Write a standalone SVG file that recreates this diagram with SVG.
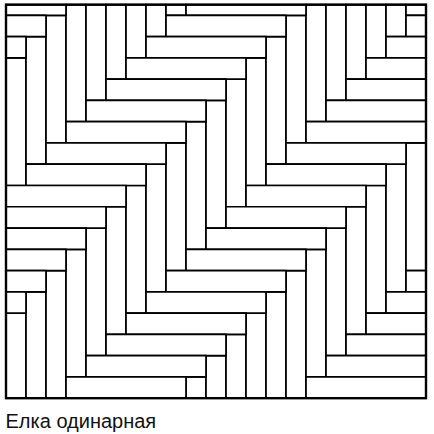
<svg xmlns="http://www.w3.org/2000/svg" width="434" height="434" viewBox="0 0 434 434">
<style>
.p{fill:#fff;stroke:#000;stroke-width:1.7;vector-effect:non-scaling-stroke}
.f{fill:none;stroke:#000;stroke-width:2.4}
.t{font-family:"Liberation Sans",Arial,sans-serif;font-size:20px;fill:#111}
</style>
<rect width="434" height="434" fill="#fff"/>
<g id="parquet" transform="translate(6,15.335) scale(20,21.27)">
<g id="vertical">
<rect class="p" x="0" y="2" width="1" height="6"/><rect class="p" x="0" y="14" width="1" height="4"/>
<rect class="p" x="1" y="1" width="1" height="6"/><rect class="p" x="1" y="13" width="1" height="5"/>
<rect class="p" x="2" y="0" width="1" height="6"/><rect class="p" x="2" y="12" width="1" height="6"/>
<rect class="p" x="3" y="-0.5" width="1" height="5.5"/><rect class="p" x="3" y="11" width="1" height="6"/>
<rect class="p" x="4" y="-0.5" width="1" height="4.5"/><rect class="p" x="4" y="10" width="1" height="6"/>
<rect class="p" x="5" y="-0.5" width="1" height="3.5"/><rect class="p" x="5" y="9" width="1" height="6"/>
<rect class="p" x="6" y="-0.5" width="1" height="2.5"/><rect class="p" x="6" y="8" width="1" height="6"/>
<rect class="p" x="7" y="-0.5" width="1" height="1.5"/><rect class="p" x="7" y="7" width="1" height="6"/>
<rect class="p" x="8" y="-0.5" width="1" height="0.5"/><rect class="p" x="8" y="6" width="1" height="6"/>
<rect class="p" x="9" y="5" width="1" height="6"/><rect class="p" x="9" y="17" width="1" height="1"/>
<rect class="p" x="10" y="4" width="1" height="6"/><rect class="p" x="10" y="16" width="1" height="2"/>
<rect class="p" x="11" y="3" width="1" height="6"/><rect class="p" x="11" y="15" width="1" height="3"/>
<rect class="p" x="12" y="2" width="1" height="6"/><rect class="p" x="12" y="14" width="1" height="4"/>
<rect class="p" x="13" y="1" width="1" height="6"/><rect class="p" x="13" y="13" width="1" height="5"/>
<rect class="p" x="14" y="0" width="1" height="6"/><rect class="p" x="14" y="12" width="1" height="6"/>
<rect class="p" x="15" y="-0.5" width="1" height="5.5"/><rect class="p" x="15" y="11" width="1" height="6"/>
<rect class="p" x="16" y="-0.5" width="1" height="4.5"/><rect class="p" x="16" y="10" width="1" height="6"/>
<rect class="p" x="17" y="-0.5" width="1" height="3.5"/><rect class="p" x="17" y="9" width="1" height="6"/>
<rect class="p" x="18" y="-0.5" width="1" height="2.5"/><rect class="p" x="18" y="8" width="1" height="6"/>
<rect class="p" x="19" y="-0.5" width="1" height="1.5"/><rect class="p" x="19" y="7" width="1" height="6"/>
<rect class="p" x="20" y="-0.5" width="1" height="0.5"/><rect class="p" x="20" y="6" width="1" height="6"/>
</g>
<g id="horizontal">
<rect class="p" x="0" y="-0.5" width="3" height="0.5"/><rect class="p" x="9" y="-0.5" width="6" height="0.5"/>
<rect class="p" x="0" y="0" width="2" height="1"/><rect class="p" x="8" y="0" width="6" height="1"/><rect class="p" x="20" y="0" width="1" height="1"/>
<rect class="p" x="0" y="1" width="1" height="1"/><rect class="p" x="7" y="1" width="6" height="1"/><rect class="p" x="19" y="1" width="2" height="1"/>
<rect class="p" x="6" y="2" width="6" height="1"/><rect class="p" x="18" y="2" width="3" height="1"/>
<rect class="p" x="5" y="3" width="6" height="1"/><rect class="p" x="17" y="3" width="4" height="1"/>
<rect class="p" x="4" y="4" width="6" height="1"/><rect class="p" x="16" y="4" width="5" height="1"/>
<rect class="p" x="3" y="5" width="6" height="1"/><rect class="p" x="15" y="5" width="6" height="1"/>
<rect class="p" x="2" y="6" width="6" height="1"/><rect class="p" x="14" y="6" width="6" height="1"/>
<rect class="p" x="1" y="7" width="6" height="1"/><rect class="p" x="13" y="7" width="6" height="1"/>
<rect class="p" x="0" y="8" width="6" height="1"/><rect class="p" x="12" y="8" width="6" height="1"/>
<rect class="p" x="0" y="9" width="5" height="1"/><rect class="p" x="11" y="9" width="6" height="1"/>
<rect class="p" x="0" y="10" width="4" height="1"/><rect class="p" x="10" y="10" width="6" height="1"/>
<rect class="p" x="0" y="11" width="3" height="1"/><rect class="p" x="9" y="11" width="6" height="1"/>
<rect class="p" x="0" y="12" width="2" height="1"/><rect class="p" x="8" y="12" width="6" height="1"/><rect class="p" x="20" y="12" width="1" height="1"/>
<rect class="p" x="0" y="13" width="1" height="1"/><rect class="p" x="7" y="13" width="6" height="1"/><rect class="p" x="19" y="13" width="2" height="1"/>
<rect class="p" x="6" y="14" width="6" height="1"/><rect class="p" x="18" y="14" width="3" height="1"/>
<rect class="p" x="5" y="15" width="6" height="1"/><rect class="p" x="17" y="15" width="4" height="1"/>
<rect class="p" x="4" y="16" width="6" height="1"/><rect class="p" x="16" y="16" width="5" height="1"/>
<rect class="p" x="3" y="17" width="6" height="1"/><rect class="p" x="15" y="17" width="6" height="1"/>
</g>
</g>
<rect id="frame" class="f" x="6" y="4.7" width="420" height="393.5"/>
<text id="caption" class="t" x="5.5" y="427.5">Елка одинарная</text>
</svg>
